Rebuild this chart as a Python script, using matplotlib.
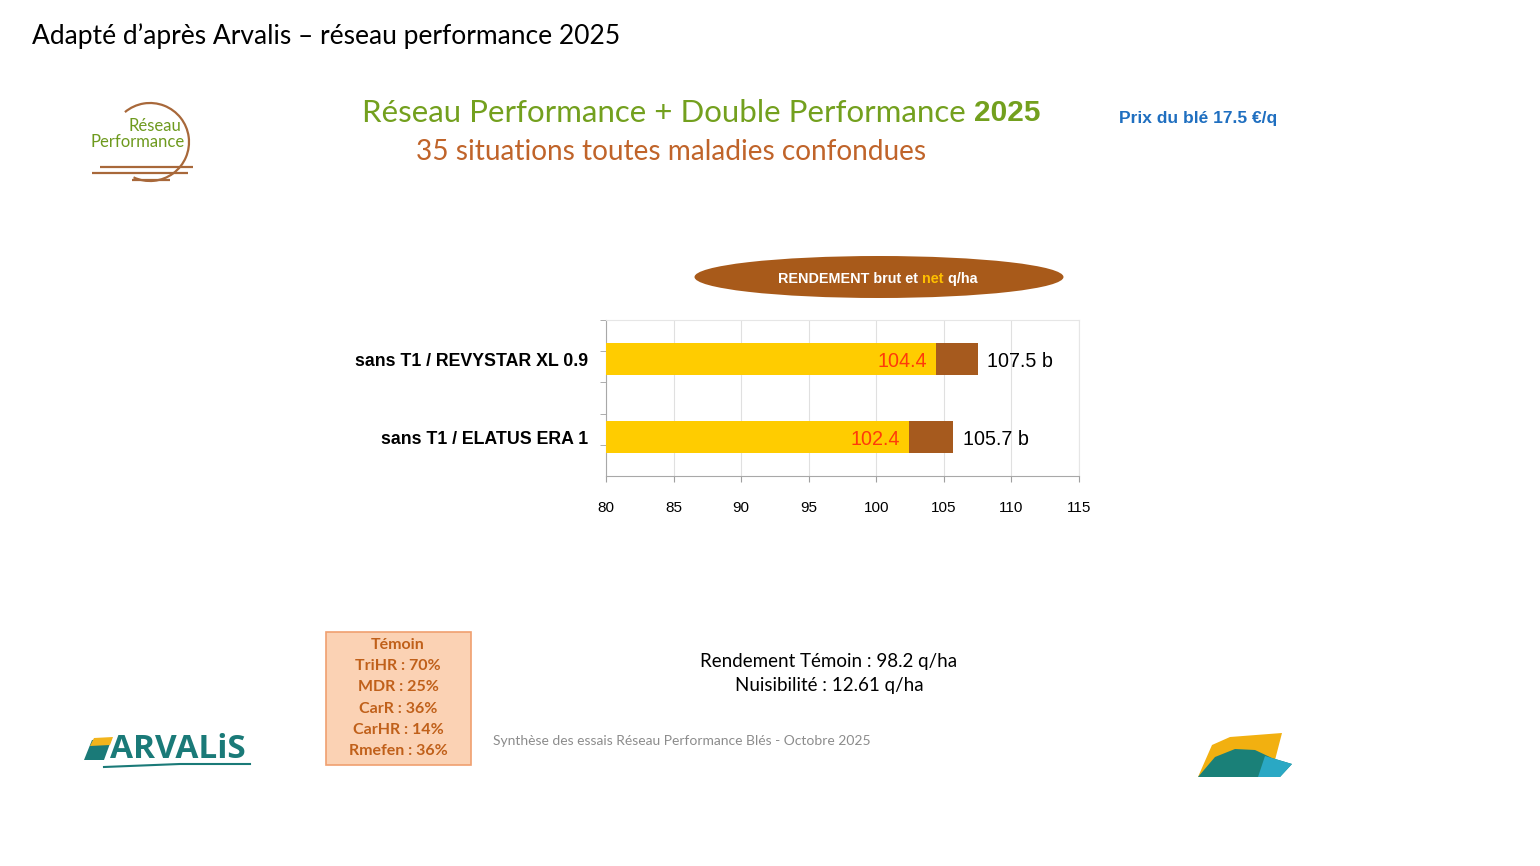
import matplotlib
matplotlib.use("Agg")
import matplotlib.pyplot as plt
from matplotlib.patches import Ellipse, Rectangle, Polygon, Arc
import numpy as np

# ---------------- data ----------------
categories = ["sans T1 / REVYSTAR XL 0.9", "sans T1 / ELATUS ERA 1"]
net_yield = [104.4, 102.4]
gross_yield = [107.5, 105.7]
groups = ["b", "b"]
x_ticks = [80, 85, 90, 95, 100, 105, 110, 115]
temoin_lines = ["Témoin", "TriHR : 70%", "MDR : 25%", "CarR : 36%", "CarHR : 14%", "Rmefen : 36%"]
rendement_temoin = 98.2
nuisibilite = 12.61
prix_ble = 17.5

W, H = 1540, 866
fig = plt.figure(figsize=(W / 100, H / 100), dpi=100)
fig.patch.set_facecolor("white")

CAL = ["Lato", "DejaVu Sans"]
ARIAL = ["Liberation Sans", "DejaVu Sans"]

# overlay in pixel coordinates for decorations
ov = fig.add_axes([0, 0, 1, 1])
ov.set_xlim(0, W)
ov.set_ylim(H, 0)
ov.axis("off")

def fx(x):
    return x / W

def fy(y):
    return 1 - y / H

# header
ov.text(32, 36, "Adapté d’après Arvalis – réseau performance 2025", fontsize=19,
        family=CAL, color="black", va="center", ha="left")

# title
green = "#73A01E"
t1 = ov.text(362, 113, "Réseau Performance + Double Performance ", fontsize=22.5,
             family=CAL, color=green, va="center", ha="left")
ov.annotate("2025", xy=(1, 0), xycoords=t1, fontsize=21.5, family=ARIAL,
            fontweight="bold", color=green, va="bottom", ha="left")
ov.text(671, 152, "35 situations toutes maladies confondues", fontsize=20.2,
        family=CAL, color="#C0642A", va="center", ha="center")
ov.text(1119, 118, f"Prix du blé {prix_ble} €/q", fontsize=12.5, family=ARIAL,
        fontweight="bold", color="#1F6FC0", va="center", ha="left")

# Réseau Performance logo
brown_logo = "#A8683A"
ov.add_patch(Arc((150, 142), 78, 78, angle=0, theta1=-130, theta2=115,
                 color=brown_logo, lw=1.6))
for (x0, x1, y) in [(100, 193, 167), (92, 188, 173), (132, 170, 180)]:
    ov.plot([x0, x1], [y, y], color=brown_logo, lw=1.6, solid_capstyle="butt")
ov.text(181, 126, "Réseau", fontsize=12, family=CAL, color="#6E9A1E",
        ha="right", va="center")
ov.text(91, 142, "Performance", fontsize=12, family=CAL, color="#6E9A1E",
        ha="left", va="center")

# ellipse header of chart
ov.add_patch(Ellipse((879, 277), 369, 42, facecolor="#A85A1A", edgecolor="none"))
e1 = ov.text(778, 279, "RENDEMENT brut et ", fontsize=10.4, family=ARIAL,
             fontweight="bold", color="white", va="center", ha="left")
e2 = ov.annotate("net", xy=(1, 0), xycoords=e1, fontsize=10.4, family=ARIAL,
                 fontweight="bold", color="#FFC000", va="bottom", ha="left")
ov.annotate(" q/ha", xy=(1, 0), xycoords=e2, fontsize=10.4, family=ARIAL,
            fontweight="bold", color="white", va="bottom", ha="left")

# Témoin box
ov.add_patch(Rectangle((326, 632), 145, 133, facecolor="#FBD2B4",
                       edgecolor="#F0A070", lw=1.2))
for i, line in enumerate(temoin_lines):
    ov.text(398, 645 + i * 21.2, line, fontsize=11.5, family=CAL,
            fontweight="bold", color="#C0601A", ha="center", va="center")

# centre notes
ov.text(829, 661, f"Rendement Témoin : {rendement_temoin} q/ha", fontsize=13.5,
        family=CAL, color="black", ha="center", va="center")
ov.text(829, 686, f"Nuisibilité : {nuisibilite} q/ha", fontsize=13.5,
        family=CAL, color="black", ha="center", va="center")
ov.text(493, 741, "Synthèse des essais Réseau Performance Blés - Octobre 2025",
        fontsize=10, family=CAL, color="#8C8C8C", ha="left", va="center")

# ARVALIS logo
ov.add_patch(Polygon([(84, 760), (92, 740), (112, 738), (104, 760)],
                     closed=True, facecolor="#1A7A78", edgecolor="none"))
ov.add_patch(Polygon([(90, 746), (94, 738), (113, 737), (110, 745)],
                     closed=True, facecolor="#F2B41C", edgecolor="none"))
ov.text(110, 750, "ARVALiS", fontsize=24, family=["Open Sans", "DejaVu Sans"],
        fontweight="bold", color="#1A7A78", ha="left", va="center")
ov.plot([104, 180, 250], [767, 764, 764], color="#1A7A78", lw=1.5)

# bottom-right logo
ov.add_patch(Polygon([(1198, 777), (1212, 745), (1230, 737), (1282, 733), (1275, 760), (1240, 768)],
                     closed=True, facecolor="#F2B010", edgecolor="none"))
ov.add_patch(Polygon([(1198, 777), (1215, 757), (1235, 749), (1255, 750), (1272, 758),
                      (1292, 764), (1280, 777)],
                     closed=True, facecolor="#1A8078", edgecolor="none"))
ov.add_patch(Polygon([(1265, 756), (1292, 764), (1280, 777), (1258, 777)],
                     closed=True, facecolor="#2AA8C4", edgecolor="none"))

# ---------------- bar chart ----------------
ax = fig.add_axes([fx(606), fy(476), (1079 - 606) / W, (476 - 320) / H])
ypos = np.arange(len(categories))
yellow = "#FFCC00"
brown = "#A65A1E"
net_arr = np.array(net_yield)
gross_arr = np.array(gross_yield)
ax.barh(ypos, net_arr, height=0.4, color=yellow, zorder=3)
ax.barh(ypos, gross_arr - net_arr, left=net_arr, height=0.4, color=brown, zorder=3)

for y, n, g, grp in zip(ypos, net_arr, gross_arr, groups):
    ax.annotate(f"{n}", xy=(n, y), xytext=(-6, -1.5), textcoords="offset points",
                ha="right", va="center", fontsize=14.2, family=ARIAL, color="#FF3A0A", zorder=4)
    ax.annotate(f"{g} {grp}", xy=(g, y), xytext=(7, -1.5), textcoords="offset points",
                ha="left", va="center", fontsize=14.2, family=ARIAL, color="black", zorder=4)

ax.set_xlim(80, 115)
ax.set_ylim(1.5, -0.5)
ax.set_xticks(x_ticks)
ax.set_xticklabels([str(t) for t in x_ticks], fontsize=11, family=ARIAL)
ax.tick_params(axis="x", length=4, pad=14, color="#A0A0A0", labelcolor="black")
ax.set_yticks(ypos)
ax.set_yticklabels(categories, fontsize=12.8, family=ARIAL, fontweight="bold")
ax.tick_params(axis="y", length=0, pad=13)
ax.set_yticks([-0.5, -0.1, 0.3, 0.7, 1.1], minor=True)
ax.tick_params(axis="y", which="minor", length=4, color="#A0A0A0")
ax.grid(axis="x", color="#E0E0E0", lw=0.8, zorder=0)
ax.set_axisbelow(True)
for s in ["left", "bottom"]:
    ax.spines[s].set_color("#A8A8A8")
for s in ["top", "right"]:
    ax.spines[s].set_color("#E6E6E6")

fig.savefig("out.png", dpi=100, facecolor="white")
